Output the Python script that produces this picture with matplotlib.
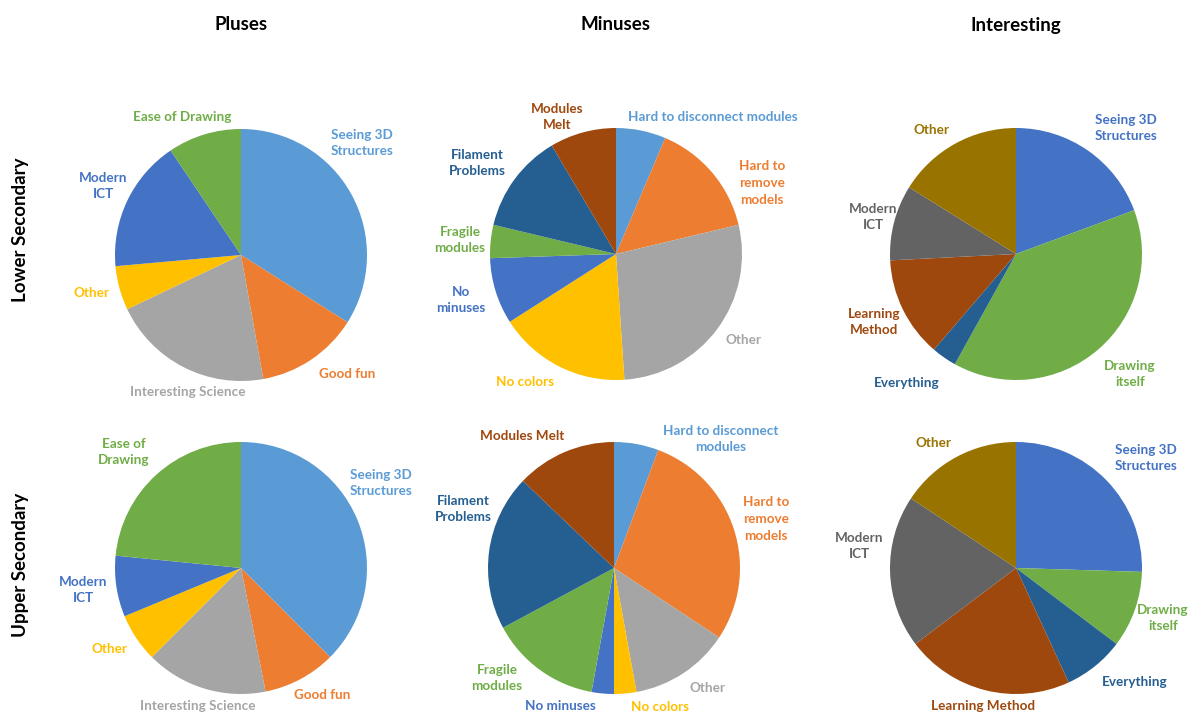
import matplotlib.pyplot as plt

# Survey answers (counts per category), slices run clockwise from 12 o'clock
pluses_labels = ["Seeing 3D\nStructures", "Good fun", "Interesting Science", "Other", "Modern\nICT", "Ease of Drawing"]
pluses_lower = [18, 7, 11, 3, 9, 5]
pluses_upper = [24, 6, 10, 4, 5, 15]

minuses_labels = ["Hard to disconnect modules", "Hard to\nremove\nmodels", "Other", "No colors",
                  "No\nminuses", "Fragile\nmodules", "Filament\nProblems", "Modules\nMelt"]
minuses_lower = [3, 7, 13, 8, 4, 2, 6, 4]
minuses_upper = [4, 20, 9, 2, 2, 10, 14, 9]

interesting_labels = ["Seeing 3D\nStructures", "Drawing\nitself", "Everything", "Learning\nMethod", "Modern\nICT", "Other"]
interesting_lower = [6, 12, 1, 4, 3, 5]
interesting_upper = [13, 5, 4, 11, 10, 8]

col_titles = ["Pluses", "Minuses", "Interesting"]
row_titles = ["Lower Secondary", "Upper Secondary"]

# Office palette
pluses_colors = ["#5B9BD5", "#ED7D31", "#A5A5A5", "#FFC000", "#4472C4", "#70AD47"]
minuses_colors = ["#5B9BD5", "#ED7D31", "#A5A5A5", "#FFC000", "#4472C4", "#70AD47", "#255E91", "#9E480E"]
interesting_colors = ["#4472C4", "#70AD47", "#255E91", "#9E480E", "#636363", "#997300"]

W, H = 1194, 715
plt.rcParams["font.family"] = ["Lato", "DejaVu Sans"]

fig = plt.figure(figsize=(W / 100, H / 100), dpi=100)
ax = fig.add_axes([0, 0, 1, 1])

# pie centres and label spots in pixel units (y measured from the top)
R = 126
pies = [
    (pluses_lower, pluses_labels, pluses_colors, (241, 255),
     [(362, 143), (347, 374), (188, 392), (92, 293), (103, 186), (182, 117)]),
    (minuses_lower, minuses_labels, minuses_colors, (616, 254),
     [(713, 117), (762, 183), (743, 340), (525, 382), (461, 300), (460, 240), (477, 163), (557, 117)]),
    (interesting_lower, interesting_labels, interesting_colors, (1016, 254),
     [(1126, 128), (1130, 374), (907, 383), (874, 322), (873, 217), (931, 130)]),
    (pluses_upper, ["Seeing 3D\nStructures", "Good fun", "Interesting Science", "Other", "Modern\nICT", "Ease of\nDrawing"],
     pluses_colors, (241, 568),
     [(381, 483), (322, 695), (198, 706), (110, 649), (83, 590), (124, 452)]),
    (minuses_upper, ["Hard to disconnect\nmodules", "Hard to\nremove\nmodels", "Other", "No colors",
                     "No minuses", "Fragile\nmodules", "Filament\nProblems", "Modules Melt"],
     minuses_colors, (614, 568),
     [(721, 439), (766, 519), (707, 688), (660, 707), (560, 706), (497, 678), (463, 509), (522, 436)]),
    (interesting_upper, ["Seeing 3D\nStructures", "Drawing\nitself", "Everything", "Learning Method", "Modern\nICT", "Other"],
     interesting_colors, (1016, 568),
     [(1146, 458), (1163, 618), (1135, 682), (983, 706), (859, 546), (933, 443)]),
]

for values, labels, colors, (cx, cy), spots in pies:
    ax.pie(values, colors=colors, startangle=90, counterclock=False,
           center=(cx, H - cy), radius=R, frame=True,
           wedgeprops=dict(linewidth=0))
    for lab, col, (lx, ly) in zip(labels, colors, spots):
        ax.text(lx, H - ly, lab, color=col, ha="center", va="center",
                fontsize=9.7, fontweight="bold", linespacing=1.45)

for title, x in zip(col_titles, [241, 616, 1016]):
    ax.text(x, H - 25, title, ha="center", va="center", fontsize=13.5, fontweight="bold")

for title, y in zip(row_titles, [230, 565]):
    ax.text(21, H - y, title, ha="center", va="center", rotation=90, fontsize=13.5, fontweight="bold")

ax.set_xlim(0, W)
ax.set_ylim(0, H)
ax.set_aspect("equal")
ax.axis("off")

fig.savefig("out.png", dpi=100)
